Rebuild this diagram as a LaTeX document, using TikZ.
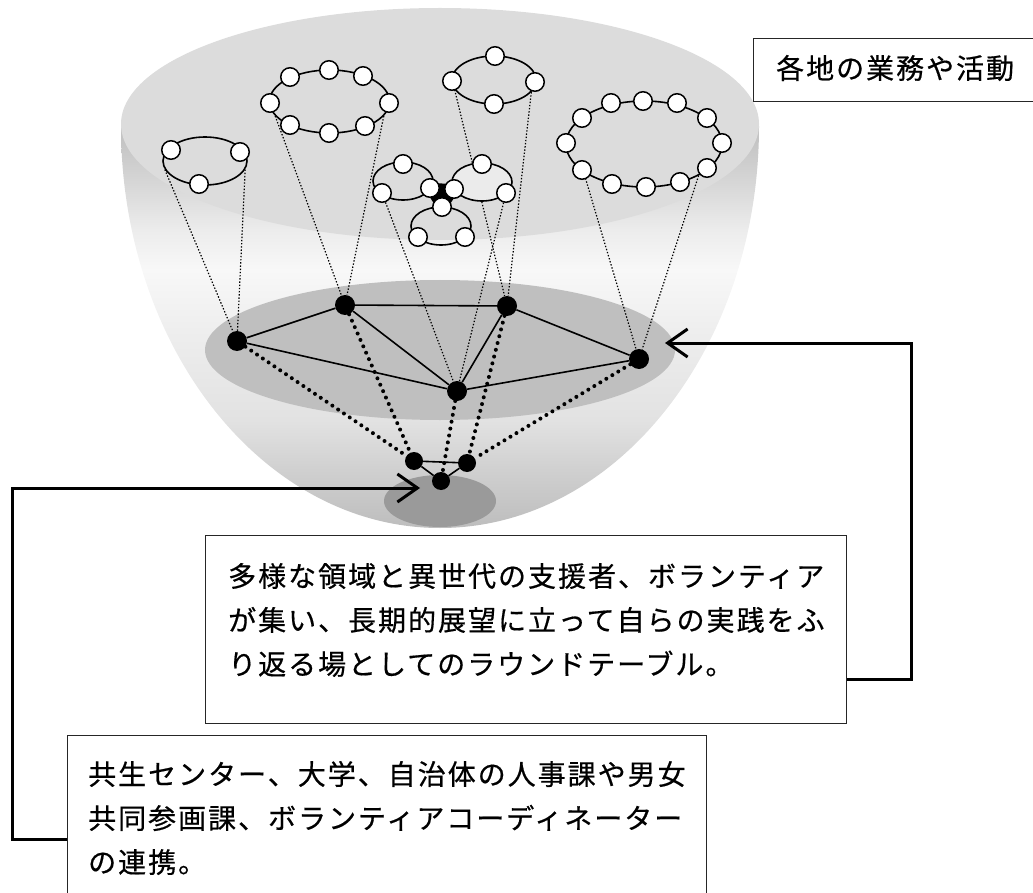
\documentclass[tikz,border=0pt]{standalone}
\usepackage{fontspec}
\newfontfamily\jpfont[LetterSpace=7.1,FakeBold=0.5]{Noto Sans CJK JP}
\usetikzlibrary{shapes.geometric,arrows.meta}
\definecolor{topgray}{HTML}{DCDCDC}
\definecolor{rtgray}{HTML}{BFBFBF}
\definecolor{basegray}{HTML}{9A9A9A}
\definecolor{blobgray}{HTML}{EBEBEB}
\definecolor{s0}{HTML}{BDBDBD}
\definecolor{s1}{HTML}{D0D0D0}
\definecolor{s2}{HTML}{E2E2E2}
\definecolor{s3}{HTML}{EEEEEE}
\definecolor{s4}{HTML}{F8F8F8}
\definecolor{s5}{HTML}{ECECEC}
\definecolor{s6}{HTML}{D5D5D5}
\definecolor{s7}{HTML}{C4C4C4}
\pgfdeclareverticalshading{bowlshade}{100bp}{color(0bp)=(s0); color(25bp)=(s0); color(32.2bp)=(s1); color(38.4bp)=(s2); color(49.6bp)=(s3); color(57.1bp)=(s4); color(62.1bp)=(s5); color(68.3bp)=(s6); color(73.3bp)=(s7); color(75bp)=(s7); color(100bp)=(s7)}
\pgfdeclarelayer{back}
\pgfdeclarelayer{lines}
\pgfsetlayers{back,lines,main}
\begin{document}
\begin{tikzpicture}[x=1pt,y=-1pt,
  wc/.style={circle, draw=black, line width=1.5pt, fill=white, minimum size=18.5pt, inner sep=0pt},
  ring/.style={ellipse, draw=black, line width=1.6pt, inner sep=0pt},
  bd/.style={circle, fill=black, minimum size=20pt, inner sep=0pt},
  sd/.style={circle, fill=black, minimum size=18pt, inner sep=0pt},
  fineline/.style={line width=1.2pt, dash pattern=on 1.4pt off 1.8pt},
  bigdots/.style={line width=4pt, line cap=round, dash pattern=on 0pt off 7pt},
  link/.style={line width=1.6pt},
  conn/.style={line width=3pt, -{Straight Barb[length=20pt,width=28pt]}},
  tbox/.style={draw=black!85, line width=1pt, fill=white, inner sep=0pt, anchor=north west},
  txt/.style={font=\jpfont\fontsize{28pt}{44pt}\selectfont, align=left, inner sep=0pt, anchor=west}
]
\useasboundingbox (0,0) rectangle (1033,893);
\begin{pgfonlayer}{back}
\shade[shading=bowlshade] (121,126) arc[start angle=180,end angle=360,x radius=319pt,y radius=402pt] -- cycle;
\fill[topgray] (440,124) ellipse [x radius=319pt, y radius=116pt];
\node[ellipse, fill=rtgray, minimum width=470pt, minimum height=140pt, inner sep=0pt] (rt) at (440,350) {};
\node[ellipse, fill=basegray, minimum width=112pt, minimum height=52pt, inner sep=0pt] (base) at (440,501) {};
\end{pgfonlayer}

% top rings
\node[ring, minimum width=84pt, minimum height=48pt] (e1) at (205,161) {};
\node[ring, minimum width=120pt, minimum height=63pt] (e2) at (329.5,101.5) {};
\node[ring, minimum width=84pt, minimum height=48pt] (e3) at (494,80) {};
\node[ring, minimum width=156pt, minimum height=86pt] (e5) at (644,144) {};
\node[ring, minimum width=60pt, minimum height=38pt] (bl) at (403,181) {};
\node[ring, fill=blobgray, minimum width=60pt, minimum height=38pt] (br) at (482,182) {};
\node[ring, minimum width=60pt, minimum height=38pt] (bb) at (441,226) {};
\fill[black, draw=black, line width=10pt, line join=round] (430,188) -- (454,189) -- (442,207) -- cycle;

\foreach \p [count=\i] in {(171,150),(240,152),(199,184)} \node[wc] (a\i) at \p {};
\foreach \p [count=\i] in {(290,77),(329,70),(363,76),(270,103),(389,103),(290,125),(329,133),(365,126)} \node[wc] (b\i) at \p {};
\foreach \p [count=\i] in {(495,56),(452,81),(535,82),(494,104)} \node[wc] (c\i) at \p {};
\foreach \p [count=\i] in {(566,143),(582,118),(611,103),(643,101),(677,103),(707,118),(722,143),(707,168),(680,182),(646,187),(612,184),(582,170)} \node[wc] (d\i) at \p {};
\foreach \p [count=\i] in {(403,164),(382,193),(430,188)} \node[wc] (bl\i) at \p {};
\foreach \p [count=\i] in {(482,164),(454,189),(506,193)} \node[wc] (br\i) at \p {};
\foreach \p [count=\i] in {(442,207),(418,237),(465,237)} \node[wc] (bb\i) at \p {};

% round table dots
\node[bd] (A) at (237,341) {};
\node[bd] (B) at (345,305) {};
\node[bd] (C) at (507,306) {};
\node[bd] (D) at (457,391) {};
\node[bd] (E) at (639,359) {};
\node[sd] (F) at (414,461) {};
\node[sd] (G) at (467,463) {};
\node[sd] (H) at (441,481) {};

\begin{pgfonlayer}{lines}
\draw[fineline] (e1.192) -- (A);
\draw[fineline] (e1.348) -- (A);
\draw[fineline] (e2.195) -- (B);
\draw[fineline] (e2.345) -- (B);
\draw[fineline] (e3.194) -- (C);
\draw[fineline] (e3.342) -- (C);
\draw[fineline] (bl2) -- (D);
\draw[fineline] (br3) -- (D);
\draw[fineline] (e5.205) -- (E);
\draw[fineline] (e5.330) -- (E);
\end{pgfonlayer}

\draw[link] (A) -- (B);
\draw[link] (B) -- (C);
\draw[link] (C) -- (E);
\draw[link] (A) -- (D);
\draw[link] (B) -- (D);
\draw[link] (C) -- (D);
\draw[link] (D) -- (E);
\draw[link] (F) -- (G);
\draw[link] (F) -- (H);
\draw[link] (G) -- (H);

\draw[bigdots] (A) -- (F);
\draw[bigdots] (B) -- (F);
\draw[bigdots] (D) -- (H);
\draw[bigdots] (C) -- (G);
\draw[bigdots] (E) -- (G);

% boxes
\node[tbox, minimum width=300pt, minimum height=63pt] (topbox) at (753,38) {};
\node[txt] (toptxt) at (776,68) {各地の業務や活動};
\node[tbox, minimum width=641pt, minimum height=188pt] (box1) at (205,535) {};
\node[txt] (txt1) at (228,620) {多様な領域と異世代の支援者、ボランティア\\が集い、長期的展望に立って自らの実践をふ\\り返る場としてのラウンドテーブル。};
\node[tbox, minimum width=639pt, minimum height=170pt] (box2) at (67,735) {};
\node[txt] (txt2) at (88,818) {共生センター、大学、自治体の人事課や男女\\共同参画課、ボランティアコーディネーター\\の連携。};

\coordinate (tipR) at (665,343);
\coordinate (tipL) at (420,488);
\draw[conn] ([yshift=-50pt]box1.east) -- ++(64pt,0pt) |- (tipR);
\draw[conn] ([yshift=-19pt]box2.west) -- ++(-55pt,0pt) |- (tipL);
\end{tikzpicture}
\end{document}
